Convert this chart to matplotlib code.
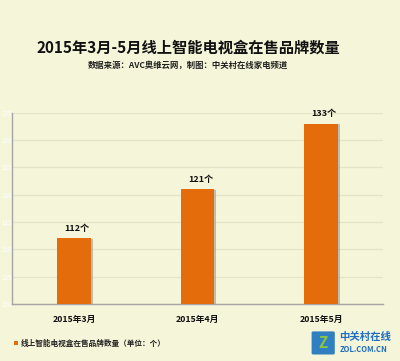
import matplotlib
matplotlib.use("Agg")
import matplotlib.pyplot as plt
import matplotlib.patheffects as pe
from matplotlib.patches import FancyBboxPatch

plt.rcParams['font.family'] = ['Noto Sans CJK SC', 'DejaVu Sans']

categories = ['2015年3月', '2015年4月', '2015年5月']
values = [112, 121, 133]
value_labels = ['112个', '121个', '133个']
yticks = [100, 105, 110, 115, 120, 125, 130, 135]
title = '2015年3月-5月线上智能电视盒在售品牌数量'
subtitle = '数据来源：AVC奥维云网，制图：中关村在线家电频道'
legend_label = '线上智能电视盒在售品牌数量（单位：个）'

bg = '#F5F5D9'
bar_color = '#E46C0A'

fig = plt.figure(figsize=(4.0, 3.61), dpi=100, facecolor=bg)
ax = fig.add_axes([0.031, 0.158, 0.926, 0.53], facecolor=bg)

x = list(range(len(categories)))
bars = ax.bar(x, [v - yticks[0] for v in values], bottom=yticks[0], width=0.27,
              color=bar_color, zorder=3)
for b in bars:
    b.set_path_effects([pe.SimplePatchShadow(offset=(1.5, -0.5), shadow_rgbFace='#999999', alpha=0.6),
                        pe.Normal()])

for xi, v, lab in zip(x, values, value_labels):
    ax.annotate(lab, (xi, v), xytext=(2, 4), textcoords='offset points',
                ha='center', va='bottom', fontsize=6.5, fontweight='bold', color='#111111')

ax.set_xlim(-0.5, 2.5)
ax.set_ylim(yticks[0], yticks[-1])
ax.set_yticks(yticks)
ax.set_yticklabels([str(t) for t in yticks], color='white', fontsize=4.5)
ax.tick_params(axis='y', length=0, pad=0.8)
ax.tick_params(axis='x', length=0, pad=8)
ax.set_xticks(x)
ax.set_xticklabels(categories, fontsize=6.3, fontweight='bold', color='#111111')
ax.grid(axis='y', color='#E4E4C6', linewidth=0.9, zorder=0)
for s in ['top', 'right']:
    ax.spines[s].set_visible(False)
for s in ['left', 'bottom']:
    ax.spines[s].set_color('#A6A6A6')
    ax.spines[s].set_linewidth(1.0)

fig.text(0.47, 0.868, title, ha='center', va='center', fontsize=11, fontweight='bold', color='#111111')
fig.text(0.47, 0.818, subtitle, ha='center', va='center', fontsize=6, fontweight='bold', color='#222222')

# legend
fig.patches.append(plt.Rectangle((0.035, 0.043), 0.011, 0.013, transform=fig.transFigure,
                                 facecolor=bar_color, edgecolor='none'))
fig.text(0.053, 0.05, legend_label, ha='left', va='center', fontsize=5.5, fontweight='bold', color='#222222')

# logo
icon = FancyBboxPatch((0.783, 0.022), 0.05, 0.056, boxstyle='round,pad=0.004',
                      transform=fig.transFigure, facecolor='#2F7FC1', edgecolor='none')
fig.patches.append(icon)
fig.text(0.808, 0.05, 'Z', ha='center', va='center', fontsize=11, fontweight='bold', color='#8CC63F')
fig.text(0.848, 0.068, '中关村在线', ha='left', va='center', fontsize=7.5, fontweight='bold', color='#1F6FC0')
fig.text(0.848, 0.033, 'ZOL.COM.CN', ha='left', va='center', fontsize=5.5, fontweight='bold', color='#1F6FC0')

fig.savefig('out.png', dpi=100, facecolor=bg)
